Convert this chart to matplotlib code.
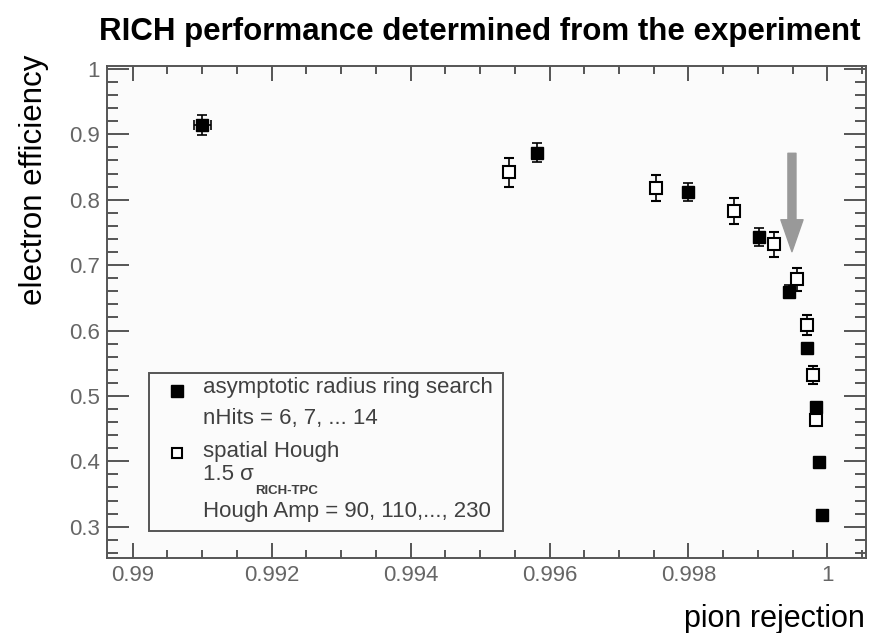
import matplotlib
matplotlib.use('Agg')
import matplotlib.pyplot as plt
from matplotlib.ticker import MultipleLocator, FuncFormatter
from matplotlib.patches import Rectangle

plt.rcParams['font.family'] = ['Liberation Sans', 'DejaVu Sans']

# asymptotic radius ring search (filled squares)
ring_x = [0.99100, 0.99582, 0.99800, 0.99901, 0.99945, 0.99971, 0.99984, 0.99988, 0.99992]
ring_y = [0.914, 0.872, 0.812, 0.743, 0.659, 0.573, 0.483, 0.399, 0.318]
ring_yerr = [0.015, 0.015, 0.014, 0.014, 0.010, 0.008, 0.006, 0.005, 0.004]
ring_xerr = [0.00012, 0, 0, 0, 0, 0, 0, 0, 0]

# spatial Hough (open squares)
hough_x = [0.99542, 0.99753, 0.99865, 0.99923, 0.99956, 0.99971, 0.99980, 0.99984]
hough_y = [0.842, 0.818, 0.783, 0.732, 0.678, 0.608, 0.532, 0.463]
hough_yerr = [0.022, 0.020, 0.020, 0.019, 0.017, 0.015, 0.014, 0.008]

arrow_x = 0.99949
arrow_from, arrow_to = 0.871, 0.7205

fig = plt.figure(figsize=(8.72, 6.33), dpi=100)
ax = fig.add_axes([0.1224, 0.1180, 0.8708, 0.7777])
ax.set_facecolor('#fbfbfb')

ax.errorbar(ring_x, ring_y, yerr=ring_yerr, xerr=ring_xerr, fmt='s', ms=8.5,
            color='black', mfc='black', mec='black', elinewidth=1.2,
            capsize=3.5, capthick=1.2, zorder=3)
ax.errorbar(hough_x, hough_y, yerr=hough_yerr, fmt='s', ms=8.5,
            color='black', mfc='white', mec='black', mew=1.5, elinewidth=1.2,
            capsize=3.5, capthick=1.2, zorder=4)

ax.annotate('', xy=(arrow_x, arrow_to), xytext=(arrow_x, arrow_from),
            arrowprops=dict(arrowstyle='simple,head_length=1.15,head_width=0.8,tail_width=0.29',
                            mutation_scale=20, color='#999999', shrinkA=0, shrinkB=0),
            zorder=2)

ax.set_xlim(0.989626, 1.000557)
ax.set_ylim(0.2517, 1.0044)
ax.xaxis.set_major_locator(MultipleLocator(0.002))
ax.xaxis.set_minor_locator(MultipleLocator(0.0005))
ax.yaxis.set_major_locator(MultipleLocator(0.1))
ax.yaxis.set_minor_locator(MultipleLocator(0.02))
fmt = FuncFormatter(lambda v, p: f'{v:g}')
ax.xaxis.set_major_formatter(fmt)
ax.yaxis.set_major_formatter(fmt)

for s in ax.spines.values():
    s.set_color('#555555')
    s.set_linewidth(1.4)
ax.tick_params(which='both', direction='in', top=True, right=True,
               color='#555555', width=1.4, labelsize=16, labelcolor='#666666')
ax.tick_params(axis='x', which='major', length=10.8, pad=5)
ax.tick_params(axis='x', which='minor', length=5.8)
ax.tick_params(axis='y', which='major', length=15.8, pad=5)
ax.tick_params(axis='y', which='minor', length=7.9)

# legend box
ax.add_patch(Rectangle((0.0561, 0.0561), 0.4662, 0.3197, transform=ax.transAxes,
                       fill=False, edgecolor='#555555', lw=1.4, zorder=5))
ax.plot([0.0930], [0.3404], 's', ms=8, color='black', transform=ax.transAxes, zorder=6)
ax.plot([0.0930], [0.2145], 's', ms=7.5, mfc='white', mec='black', mew=1.5,
        transform=ax.transAxes, zorder=6)
leg_kw = dict(transform=ax.transAxes, fontsize=16, color='#404040', va='baseline', zorder=6)
ax.text(0.1272, 0.3352, 'asymptotic radius ring search', **leg_kw)
ax.text(0.1272, 0.2728, 'nHits = 6, 7, ... 14', **leg_kw)
ax.text(0.1272, 0.2064, 'spatial Hough', **leg_kw)
ax.text(0.1272, 0.1590, '1.5 σ', **leg_kw)
ax.text(0.1953, 0.1300, 'RICH-TPC', transform=ax.transAxes, fontsize=9.5,
        fontweight='bold', color='#404040', va='baseline', zorder=6)
ax.text(0.1272, 0.0833, 'Hough Amp = 90, 110,..., 230', **leg_kw)

fig.text(480 / 872, 1 - 32 / 633, 'RICH performance determined from the experiment',
         ha='center', va='center', fontsize=22.5, fontweight='bold')
fig.text(34 / 872, 1 - 180 / 633, 'electron efficiency', rotation=90,
         ha='center', va='center', fontsize=22.5)
fig.text(865 / 872, 1 - 627 / 633, 'pion rejection', ha='right', va='baseline', fontsize=22)

fig.savefig('out.png', dpi=100)
